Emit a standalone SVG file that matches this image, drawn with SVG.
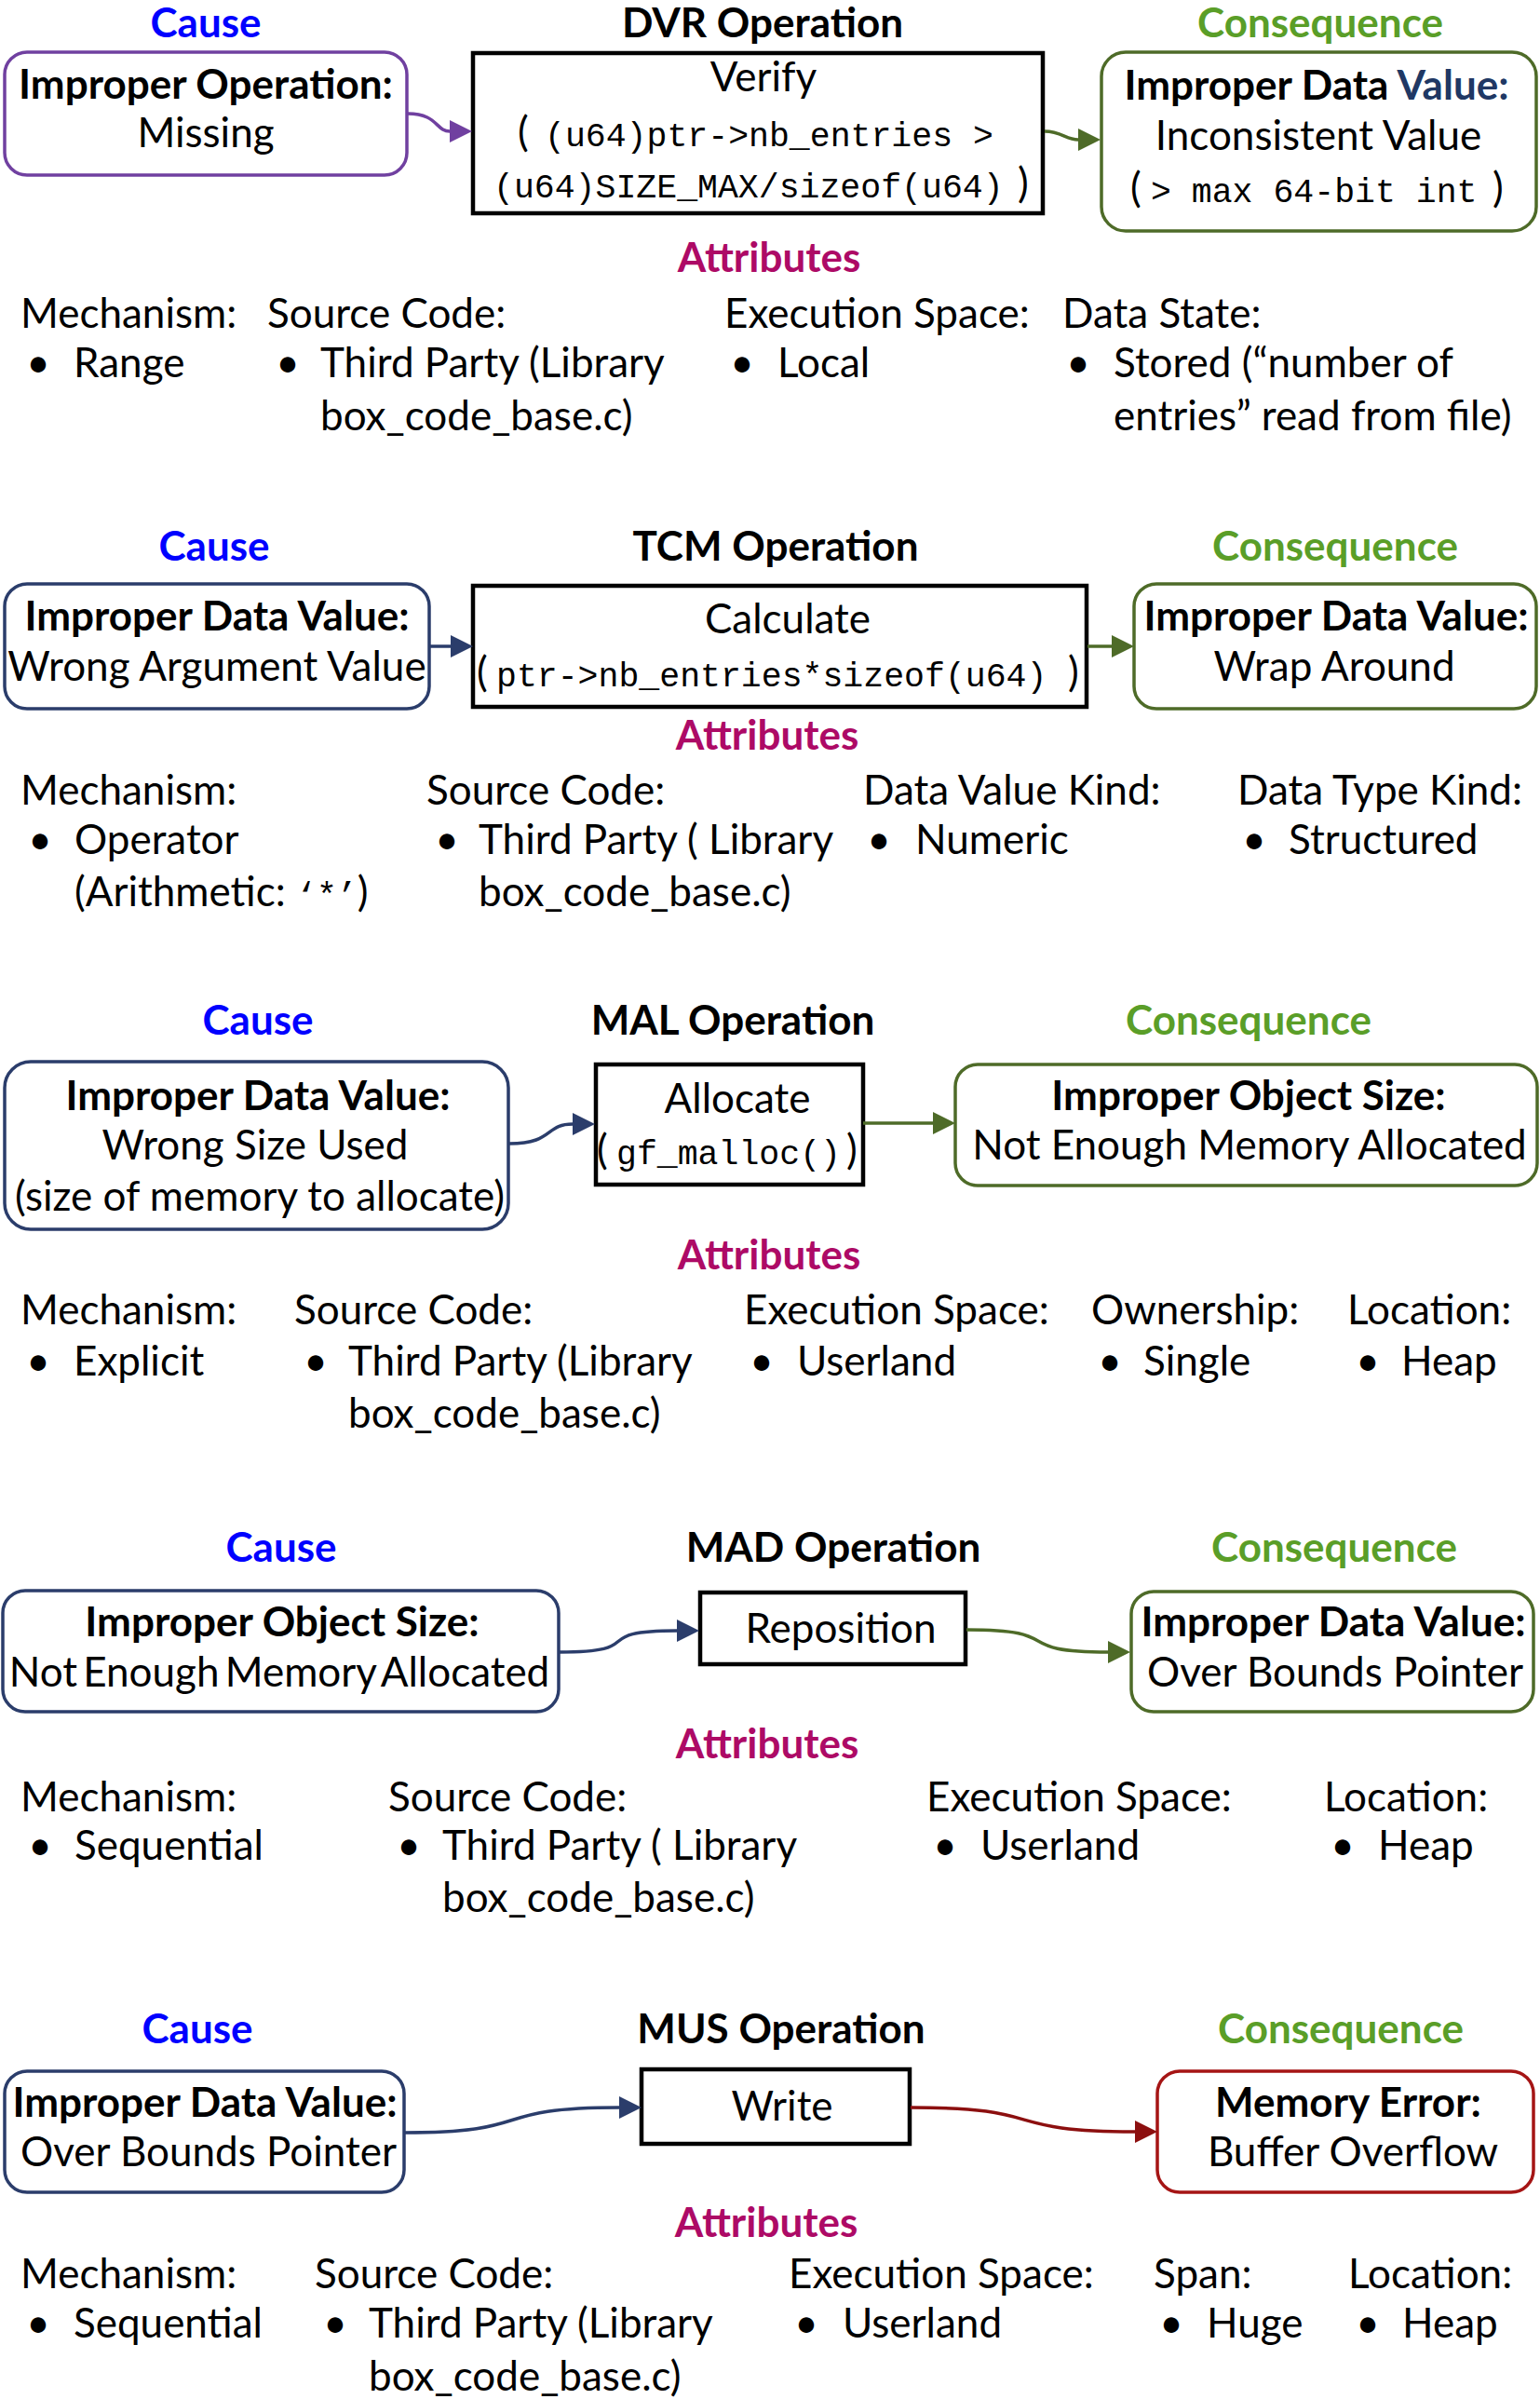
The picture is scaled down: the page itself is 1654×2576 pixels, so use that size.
<svg xmlns="http://www.w3.org/2000/svg" width="1654" height="2576" viewBox="0 0 1654 2576">
<style>
text{font-family:Lato,"Liberation Sans",sans-serif;font-size:44px;fill:#000}
.b{font-weight:bold}
.c{text-anchor:middle}
.cause{font-weight:bold;fill:#0000ff;text-anchor:middle}
.op{font-weight:bold;text-anchor:middle}
.cons{font-weight:bold;fill:#5a9e28;text-anchor:middle}
.attr{font-weight:bold;fill:#ad0a66;text-anchor:middle}
.m{font-family:"Liberation Mono","DejaVu Sans Mono",monospace;font-size:36.5px}
.opbox{fill:#fff;stroke:#000;stroke-width:4.5}
.pur{fill:#fff;stroke:#7040a0;stroke-width:3.5}
.nav{fill:#fff;stroke:#2b3d6b;stroke-width:3.5}
.grn{fill:#fff;stroke:#4e6b28;stroke-width:3.5}
.red{fill:#fff;stroke:#a51515;stroke-width:3.5}
.e{fill:none;stroke-width:3.5}
</style>
<defs>
<marker id="ap" viewBox="0 0 24 24" markerWidth="24" markerHeight="24" markerUnits="userSpaceOnUse" refX="0" refY="12" orient="auto"><path d="M0,0 L24,12 L0,24 z" fill="#7040a0"/></marker>
<marker id="an" viewBox="0 0 24 24" markerWidth="24" markerHeight="24" markerUnits="userSpaceOnUse" refX="0" refY="12" orient="auto"><path d="M0,0 L24,12 L0,24 z" fill="#2b3d6b"/></marker>
<marker id="ag" viewBox="0 0 24 24" markerWidth="24" markerHeight="24" markerUnits="userSpaceOnUse" refX="0" refY="12" orient="auto"><path d="M0,0 L24,12 L0,24 z" fill="#4e6b28"/></marker>
<marker id="ar" viewBox="0 0 24 24" markerWidth="24" markerHeight="24" markerUnits="userSpaceOnUse" refX="0" refY="12" orient="auto"><path d="M0,0 L24,12 L0,24 z" fill="#8c0f0f"/></marker>
</defs>

<!-- Section 1: DVR -->
<g id="s1-headers">
<text class="cause" x="221" y="40">Cause</text>
<text class="op" x="819" y="40">DVR Operation</text>
<text class="cons" x="1418" y="40">Consequence</text>
</g>
<g id="s1-cause">
<rect class="pur" x="5" y="56" width="432" height="132" rx="24"/>
<text class="b c" x="221" y="106">Improper Operation:</text>
<text class="c" x="221" y="158">Missing</text>
</g>
<g id="s1-op">
<rect class="opbox" x="508" y="57" width="612" height="172"/>
<text class="c" x="820" y="98">Verify</text>
<text x="556" y="157">(</text>
<text class="m" x="585" y="157">(u64)ptr-&gt;nb_entries &gt;</text>
<text class="m" x="530" y="212">(u64)SIZE_MAX/sizeof(u64)</text>
<text x="1093" y="212">)</text>
</g>
<g id="s1-cons">
<rect class="grn" x="1183" y="56" width="467" height="192" rx="26"/>
<text class="b c" x="1414" y="107">Improper Data <tspan fill="#203864">Value:</tspan></text>
<text class="c" x="1416" y="161">Inconsistent Value</text>
<text x="1214" y="217">(</text>
<text class="m" x="1236" y="217">&gt; max 64-bit int</text>
<text x="1603" y="217">)</text>
</g>
<g id="s1-attrs">
<text class="attr" x="826" y="292">Attributes</text>
<text x="22" y="352">Mechanism:</text>
<text x="287" y="352">Source Code:</text>
<text x="778" y="352">Execution Space:</text>
<text x="1141" y="352">Data State:</text>
<text class="c" x="41" y="405">•</text><text x="79" y="405">Range</text>
<text class="c" x="309" y="405">•</text><text x="344" y="405">Third Party (Library</text>
<text x="344" y="462">box_code_base.c)</text>
<text class="c" x="797" y="405">•</text><text x="835" y="405">Local</text>
<text class="c" x="1158" y="405">•</text><text x="1196" y="405">Stored (“number of</text>
<text x="1196" y="462">entries” read from file)</text>
</g>

<!-- Section 2: TCM -->
<g id="s2-headers">
<text class="cause" x="230" y="602">Cause</text>
<text class="op" x="833" y="602">TCM Operation</text>
<text class="cons" x="1434" y="602">Consequence</text>
</g>
<g id="s2-cause">
<rect class="nav" x="5" y="627" width="456" height="134" rx="24"/>
<text class="b c" x="233" y="677">Improper Data Value:</text>
<text class="c" x="233" y="731">Wrong Argument Value</text>
</g>
<g id="s2-op">
<rect class="opbox" x="508" y="629" width="659" height="130"/>
<text class="c" x="846" y="680">Calculate</text>
<text x="512" y="737">(</text>
<text class="m" x="533" y="737">ptr-&gt;nb_entries*sizeof(u64)</text>
<text x="1147" y="737">)</text>
</g>
<g id="s2-cons">
<rect class="grn" x="1218" y="627" width="432" height="134" rx="24"/>
<text class="b c" x="1435" y="677">Improper Data Value:</text>
<text class="c" x="1433" y="731">Wrap Around</text>
</g>
<g id="s2-attrs">
<text class="attr" x="824" y="805">Attributes</text>
<text x="22" y="864">Mechanism:</text>
<text x="458" y="864">Source Code:</text>
<text x="927" y="864">Data Value Kind:</text>
<text x="1329" y="864">Data Type Kind:</text>
<text class="c" x="43" y="917">•</text><text x="80" y="917">Operator</text>
<text x="80" y="973">(Arithmetic: <tspan class="m">‘*’</tspan>)</text>
<text class="c" x="480" y="917">•</text><text x="514" y="917">Third Party ( Library</text>
<text x="514" y="973">box_code_base.c)</text>
<text class="c" x="944" y="917">•</text><text x="983" y="917">Numeric</text>
<text class="c" x="1347" y="917">•</text><text x="1384" y="917">Structured</text>
</g>

<!-- Section 3: MAL -->
<g id="s3-headers">
<text class="cause" x="277" y="1111">Cause</text>
<text class="op" x="787" y="1111">MAL Operation</text>
<text class="cons" x="1341" y="1111">Consequence</text>
</g>
<g id="s3-cause">
<rect class="nav" x="5" y="1140" width="541" height="180" rx="28"/>
<text class="b c" x="277" y="1192">Improper Data Value:</text>
<text class="c" x="274" y="1245">Wrong Size Used</text>
<text class="c" x="279" y="1300">(size of memory to allocate)</text>
</g>
<g id="s3-op">
<rect class="opbox" x="640" y="1143" width="287" height="129"/>
<text class="c" x="792" y="1195">Allocate</text>
<text x="641" y="1250">(</text>
<text class="m" x="662" y="1250">gf_malloc()</text>
<text x="909" y="1250">)</text>
</g>
<g id="s3-cons">
<rect class="grn" x="1026" y="1143" width="625" height="130" rx="24"/>
<text class="b c" x="1341" y="1192">Improper Object Size:</text>
<text class="c" x="1342" y="1245">Not Enough Memory Allocated</text>
</g>
<g id="s3-attrs">
<text class="attr" x="826" y="1363">Attributes</text>
<text x="22" y="1422">Mechanism:</text>
<text x="316" y="1422">Source Code:</text>
<text x="799" y="1422">Execution Space:</text>
<text x="1172" y="1422">Ownership:</text>
<text x="1447" y="1422">Location:</text>
<text class="c" x="41" y="1477">•</text><text x="79" y="1477">Explicit</text>
<text class="c" x="339" y="1477">•</text><text x="374" y="1477">Third Party (Library</text>
<text x="374" y="1533">box_code_base.c)</text>
<text class="c" x="818" y="1477">•</text><text x="856" y="1477">Userland</text>
<text class="c" x="1192" y="1477">•</text><text x="1228" y="1477">Single</text>
<text class="c" x="1469" y="1477">•</text><text x="1505" y="1477">Heap</text>
</g>

<!-- Section 4: MAD -->
<g id="s4-headers">
<text class="cause" x="302" y="1677">Cause</text>
<text class="op" x="895" y="1677">MAD Operation</text>
<text class="cons" x="1433" y="1677">Consequence</text>
</g>
<g id="s4-cause">
<rect class="nav" x="3" y="1708" width="597" height="130" rx="24"/>
<text class="b c" x="303" y="1757">Improper Object Size:</text>
<text class="c" x="300" y="1811" word-spacing="-5">Not Enough Memory Allocated</text>
</g>
<g id="s4-op">
<rect class="opbox" x="752" y="1710" width="285" height="77"/>
<text class="c" x="903" y="1764">Reposition</text>
</g>
<g id="s4-cons">
<rect class="grn" x="1215" y="1709" width="432" height="129" rx="24"/>
<text class="b c" x="1432" y="1757">Improper Data Value:</text>
<text class="c" x="1434" y="1811">Over Bounds Pointer</text>
</g>
<g id="s4-attrs">
<text class="attr" x="824" y="1888">Attributes</text>
<text x="22" y="1945">Mechanism:</text>
<text x="417" y="1945">Source Code:</text>
<text x="995" y="1945">Execution Space:</text>
<text x="1422" y="1945">Location:</text>
<text class="c" x="43" y="1997">•</text><text x="80" y="1997">Sequential</text>
<text class="c" x="439" y="1997">•</text><text x="475" y="1997">Third Party ( Library</text>
<text x="475" y="2053">box_code_base.c)</text>
<text class="c" x="1015" y="1997">•</text><text x="1053" y="1997">Userland</text>
<text class="c" x="1442" y="1997">•</text><text x="1480" y="1997">Heap</text>
</g>

<!-- Section 5: MUS -->
<g id="s5-headers">
<text class="cause" x="212" y="2194">Cause</text>
<text class="op" x="839" y="2194">MUS Operation</text>
<text class="cons" x="1440" y="2194">Consequence</text>
</g>
<g id="s5-cause">
<rect class="nav" x="5" y="2224" width="429" height="130" rx="24"/>
<text class="b c" x="220" y="2273">Improper Data Value:</text>
<text class="c" x="224" y="2326">Over Bounds Pointer</text>
</g>
<g id="s5-op">
<rect class="opbox" x="689" y="2222" width="288" height="80"/>
<text class="c" x="840" y="2277">Write</text>
</g>
<g id="s5-cons">
<rect class="red" x="1243" y="2224" width="404" height="130" rx="24"/>
<text class="b c" x="1448" y="2273">Memory Error:</text>
<text class="c" x="1453" y="2326">Buffer Overflow</text>
</g>
<g id="s5-attrs">
<text class="attr" x="823" y="2402">Attributes</text>
<text x="22" y="2457">Mechanism:</text>
<text x="338" y="2457">Source Code:</text>
<text x="847" y="2457">Execution Space:</text>
<text x="1239" y="2457">Span:</text>
<text x="1448" y="2457">Location:</text>
<text class="c" x="41" y="2510">•</text><text x="79" y="2510">Sequential</text>
<text class="c" x="360" y="2510">•</text><text x="396" y="2510">Third Party (Library</text>
<text x="396" y="2567">box_code_base.c)</text>
<text class="c" x="866" y="2510">•</text><text x="905" y="2510">Userland</text>
<text class="c" x="1258" y="2510">•</text><text x="1296" y="2510">Huge</text>
<text class="c" x="1469" y="2510">•</text><text x="1506" y="2510">Heap</text>
</g>

<g id="connectors">
<path class="e" stroke="#7040a0" d="M438,122 C470,122 468,141 483,141" marker-end="url(#ap)"/>
<path class="e" stroke="#4e6b28" d="M1122,141 C1140,141 1145,150 1158,150" marker-end="url(#ag)"/>
<path class="e" stroke="#2b3d6b" d="M461,694 L484,694" marker-end="url(#an)"/>
<path class="e" stroke="#4e6b28" d="M1168,694 L1194,694" marker-end="url(#ag)"/>
<path class="e" stroke="#2b3d6b" d="M547,1228 C595,1228 585,1207 615,1207" marker-end="url(#an)"/>
<path class="e" stroke="#4e6b28" d="M927,1206 L1002,1206" marker-end="url(#ag)"/>
<path class="e" stroke="#2b3d6b" d="M601,1774 C700,1774 628,1751 727,1751" marker-end="url(#an)"/>
<path class="e" stroke="#4e6b28" d="M1038,1750 C1150,1750 1080,1774 1190,1774" marker-end="url(#ag)"/>
<path class="e" stroke="#2b3d6b" d="M435,2290 C580,2290 520,2263 665,2263" marker-end="url(#an)"/>
<path class="e" stroke="#8c0f0f" d="M978,2263 C1130,2263 1070,2289 1219,2289" marker-end="url(#ar)"/>
</g>
</svg>
